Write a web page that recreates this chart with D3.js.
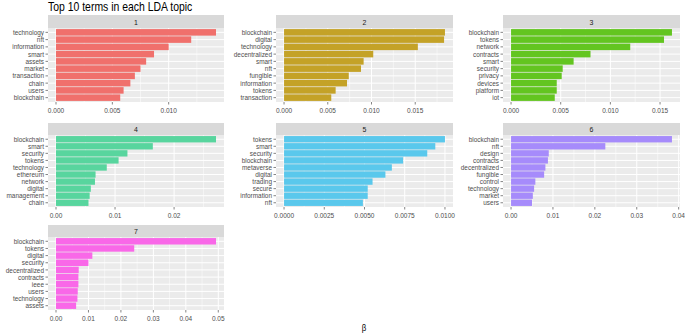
<!DOCTYPE html>
<html>
<head>
<meta charset="utf-8">
<script src="https://cdn.jsdelivr.net/npm/d3@7"></script>
<style>
  body { margin: 0; background: #fff; }
  text { font-family: "Liberation Sans", Arial, sans-serif; }
</style>
</head>
<body>
<svg id="chart" width="685" height="334"></svg>
<script>
// terms and beta per topic (largest first)
const topic1Terms = ["technology", "nft", "information", "smart", "assets", "market", "transaction", "chain", "users", "blockchain"];
const topic1Beta = [0.0142, 0.0120, 0.0100, 0.0087, 0.0080, 0.0075, 0.0070, 0.0066, 0.0060, 0.0057];
const topic2Terms = ["blockchain", "digital", "technology", "decentralized", "smart", "nft", "fungible", "information", "tokens", "transaction"];
const topic2Beta = [0.0184, 0.0183, 0.0153, 0.0102, 0.0091, 0.0088, 0.0074, 0.0072, 0.0059, 0.0054];
const topic3Terms = ["blockchain", "tokens", "network", "contracts", "smart", "security", "privacy", "devices", "platform", "iot"];
const topic3Beta = [0.0162, 0.0154, 0.0120, 0.0080, 0.0063, 0.0052, 0.0051, 0.0046, 0.0046, 0.0044];
const topic4Terms = ["blockchain", "smart", "security", "tokens", "technology", "ethereum", "network", "digital", "management", "chain"];
const topic4Beta = [0.0271, 0.0164, 0.0121, 0.0106, 0.0086, 0.0067, 0.0066, 0.0059, 0.0057, 0.0055];
const topic5Terms = ["tokens", "smart", "security", "blockchain", "metaverse", "digital", "trading", "secure", "information", "nft"];
const topic5Beta = [0.0100, 0.0094, 0.0089, 0.0074, 0.0067, 0.0063, 0.0055, 0.0052, 0.0052, 0.0049];
const topic6Terms = ["blockchain", "nft", "design", "contracts", "decentralized", "fungible", "control", "technology", "market", "users"];
const topic6Beta = [0.0384, 0.0225, 0.0090, 0.0088, 0.0082, 0.0079, 0.0058, 0.0055, 0.0052, 0.0050];
const topic7Terms = ["blockchain", "tokens", "digital", "security", "decentralized", "contracts", "ieee", "users", "technology", "assets"];
const topic7Beta = [0.0493, 0.0241, 0.0112, 0.0100, 0.0070, 0.0069, 0.0069, 0.0067, 0.0066, 0.0062];

// x tick values per topic
const topicTicks = [
  [0, 0.005, 0.010],
  [0, 0.005, 0.010, 0.015],
  [0, 0.005, 0.010, 0.015],
  [0, 0.01, 0.02],
  [0, 0.0025, 0.005, 0.0075, 0.01],
  [0, 0.01, 0.02, 0.03, 0.04],
  [0, 0.01, 0.02, 0.03, 0.04, 0.05]
];
const tickFormats = [".3f", ".3f", ".3f", ".2f", ".4f", ".2f", ".2f"];
const topicColors = ["#F0706C", "#C4A227", "#63C520", "#58D59E", "#5AC8EC", "#A68BFB", "#F968E8"];

const topics = [
  { id: 1, terms: topic1Terms, beta: topic1Beta },
  { id: 2, terms: topic2Terms, beta: topic2Beta },
  { id: 3, terms: topic3Terms, beta: topic3Beta },
  { id: 4, terms: topic4Terms, beta: topic4Beta },
  { id: 5, terms: topic5Terms, beta: topic5Beta },
  { id: 6, terms: topic6Terms, beta: topic6Beta },
  { id: 7, terms: topic7Terms, beta: topic7Beta }
];

// panel layout
const cols = [{ left: 48, right: 224 }, { left: 276, right: 453 }, { left: 503, right: 680 }];
const rows = [
  { strip: 15, top: 28, bottom: 102 },
  { strip: 123, top: 135, bottom: 207 },
  { strip: 225, top: 237, bottom: 310 }
];

// the picture is a bit squeezed sideways, so text is narrowed
const squeeze = 0.87;
function addText(sel, x, y, size, anchor, fill, str) {
  return sel.append("text")
    .attr("transform", `translate(${x},${y}) scale(${squeeze},1)`)
    .attr("text-anchor", anchor)
    .attr("font-size", size + "px")
    .attr("fill", fill)
    .text(str);
}

const svg = d3.select("#chart");

addText(svg, 48, 11, 12, "start", "#000", "Top 10 terms in each LDA topic");

topics.forEach((t, i) => {
  const col = cols[i % 3];
  const row = rows[Math.floor(i / 3)];
  const maxB = d3.max(t.beta);

  const x = d3.scaleLinear()
    .domain([-0.05 * maxB, 1.05 * maxB])
    .range([col.left, col.right]);
  const y = d3.scaleLinear()
    .domain([0.4, 10.6])
    .range([row.bottom, row.top]);

  const g = svg.append("g").classed("panel", true);

  // strip
  g.append("rect")
    .attr("x", col.left)
    .attr("y", row.strip)
    .attr("width", col.right - col.left)
    .attr("height", row.top - row.strip)
    .attr("fill", "#D9D9D9");
  addText(g, (col.left + col.right) / 2, (row.strip + row.top) / 2 + 3, 8, "middle", "#1A1A1A", t.id);

  // panel background
  g.append("rect")
    .attr("x", col.left)
    .attr("y", row.top)
    .attr("width", col.right - col.left)
    .attr("height", row.bottom - row.top)
    .attr("fill", "#EBEBEB");

  // minor gridlines
  const ticks = topicTicks[i];
  const step = ticks[1] - ticks[0];
  const minor = [];
  for (let k = 0; k <= ticks.length; k++) {
    const v = ticks[0] + (k - 0.5) * step;
    if (x(v) > col.left && x(v) < col.right) minor.push(v);
  }
  g.selectAll(".minor")
    .data(minor)
    .enter()
    .append("line")
      .attr("x1", d => x(d)).attr("x2", d => x(d))
      .attr("y1", row.top).attr("y2", row.bottom)
      .attr("stroke", "#fff")
      .attr("stroke-width", 0.5);

  // major gridlines
  g.selectAll(".majorx")
    .data(ticks)
    .enter()
    .append("line")
      .attr("x1", d => x(d)).attr("x2", d => x(d))
      .attr("y1", row.top).attr("y2", row.bottom)
      .attr("stroke", "#fff")
      .attr("stroke-width", 1);
  g.selectAll(".majory")
    .data(t.terms)
    .enter()
    .append("line")
      .attr("x1", col.left).attr("x2", col.right)
      .attr("y1", (d, j) => y(10 - j)).attr("y2", (d, j) => y(10 - j))
      .attr("stroke", "#fff")
      .attr("stroke-width", 1);

  // bars
  const bh = y(0) - y(0.9);
  g.selectAll(".bar")
    .data(t.beta)
    .enter()
    .append("rect")
      .classed("bar", true)
      .attr("x", x(0))
      .attr("y", (d, j) => y(10 - j) - bh / 2)
      .attr("width", d => x(d) - x(0))
      .attr("height", bh)
      .attr("fill", topicColors[i]);

  // y axis
  const yAxis = g.append("g");
  t.terms.forEach((term, j) => {
    const yy = y(10 - j);
    yAxis.append("line")
      .attr("x1", col.left - 2.5).attr("x2", col.left)
      .attr("y1", yy).attr("y2", yy)
      .attr("stroke", "#333")
      .attr("stroke-width", 0.6);
    addText(yAxis, col.left - 4, yy + 2.6, 7.4, "end", "#4D4D4D", term);
  });

  // x axis
  const fmt = d3.format(tickFormats[i]);
  const xAxis = g.append("g");
  ticks.forEach(v => {
    xAxis.append("line")
      .attr("x1", x(v)).attr("x2", x(v))
      .attr("y1", row.bottom).attr("y2", row.bottom + 2.5)
      .attr("stroke", "#333")
      .attr("stroke-width", 0.6);
    addText(xAxis, x(v), row.bottom + 10.5, 7.5, "middle", "#4D4D4D", fmt(v));
  });
});

// x axis title
addText(svg, 364, 331, 9, "middle", "#000", "β");
</script>
</body>
</html>
